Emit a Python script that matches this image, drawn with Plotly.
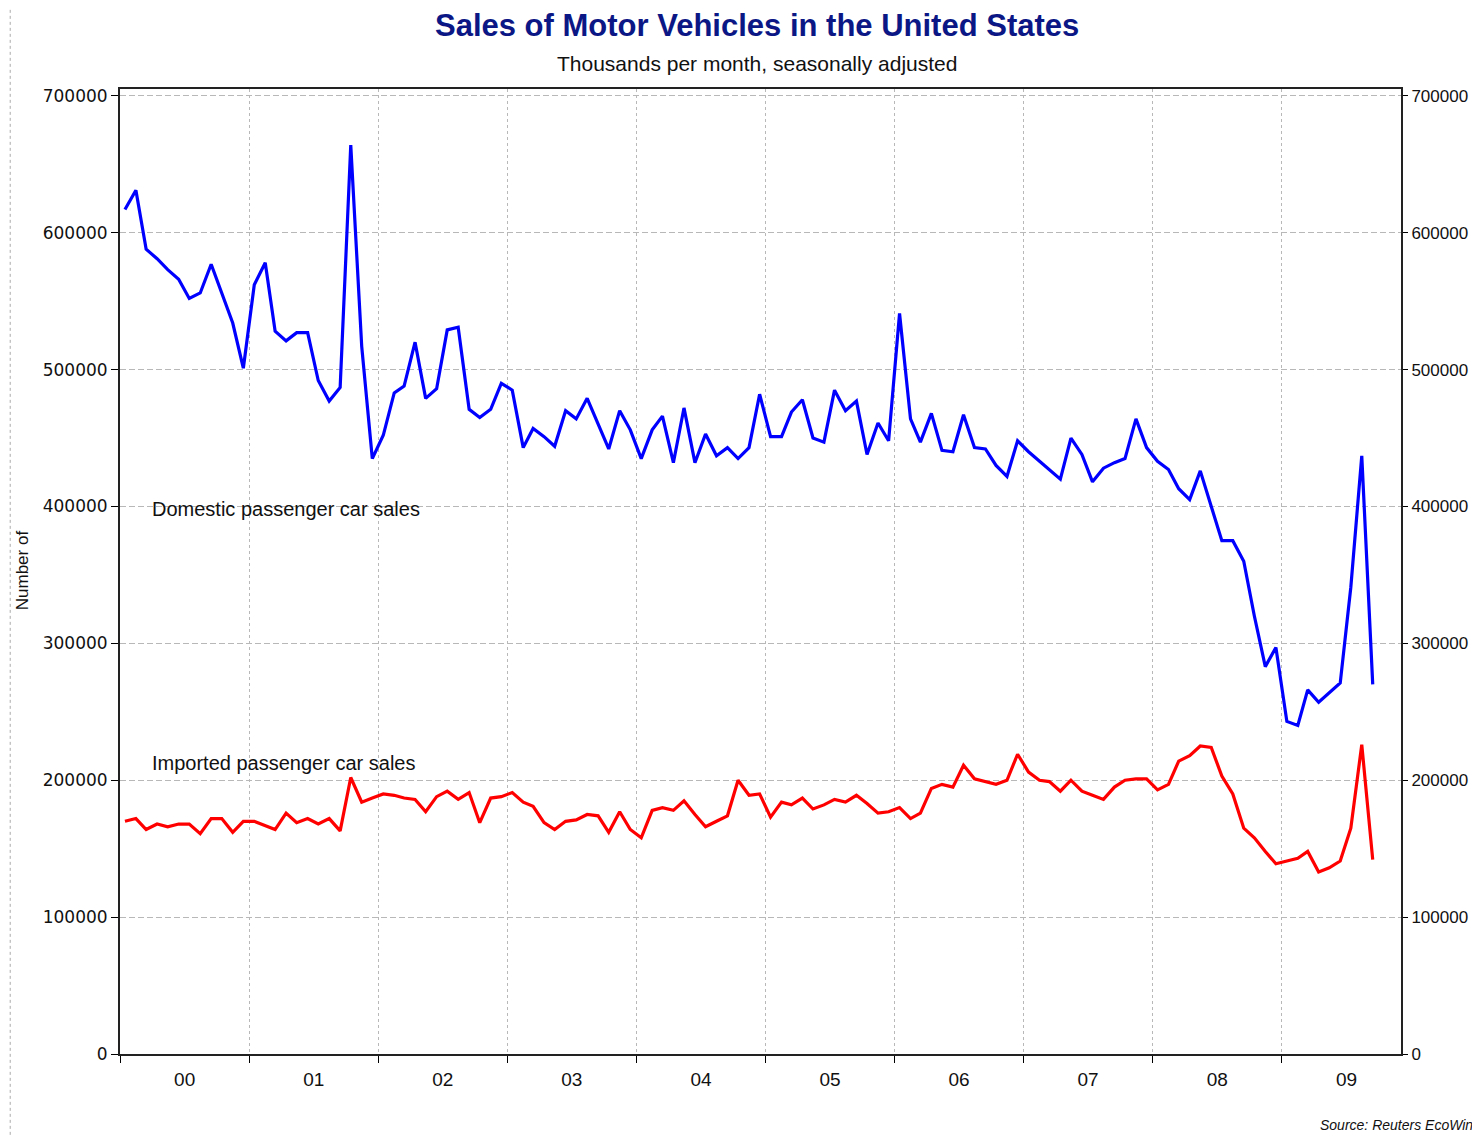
import pandas as pd
import plotly.graph_objects as go

months = pd.date_range("2000-01-01", periods=117, freq="MS") + pd.Timedelta(days=14)

domestic_k = [
    617, 631, 588, 581, 573, 566, 552, 556, 577, 556, 534, 501,
    562, 578, 528, 521, 527, 527, 492, 477, 487, 664, 517, 435,
    452, 483, 488, 520, 479, 486, 529, 531, 471, 465, 471, 490,
    485, 443, 457, 451, 444, 470, 464, 479, 460, 442, 470, 456,
    435, 456, 466, 432, 472, 432, 453, 437, 443, 435, 443, 482,
    451, 451, 469, 478, 450, 447, 485, 470, 477, 438, 461, 448,
    541, 464, 447, 468, 441, 440, 467, 443, 442, 430, 422, 448,
    440, 433, 427, 420, 450, 438, 418, 428, 432, 435, 464, 443,
    433, 427, 413, 405, 426, 400, 375, 375, 360, 320, 283, 297,
    243, 240, 266, 257, 264, 271, 341, 437, 270,
]

imported_k = [
    170, 172, 164, 168, 166, 168, 168, 161, 172, 172, 162, 170,
    170, 167, 164, 176, 169, 172, 168, 172, 163, 202, 184, 187,
    190, 189, 187, 186, 177, 188, 192, 186, 191, 169, 187, 188,
    191, 184, 181, 169, 164, 170, 171, 175, 174, 162, 177, 164,
    158, 178, 180, 178, 185, 175, 166, 170, 174, 200, 189, 190,
    173, 184, 182, 187, 179, 182, 186, 184, 189, 183, 176, 177,
    180, 172, 176, 194, 197, 195, 211, 201, 199, 197, 200, 219,
    206, 200, 199, 192, 200, 192, 189, 186, 195, 200, 201, 201,
    193, 197, 214, 218, 225, 224, 203, 190, 165, 158, 148, 139,
    141, 143, 148, 133, 136, 141, 165, 226, 142,
]

domestic = [v * 1000 for v in domestic_k]
imported = [v * 1000 for v in imported_k]

title_text = "Sales of Motor Vehicles in the United States"
subtitle_text = "Thousands per month, seasonally adjusted"
y_title = "Number of"
source_text = "Source: Reuters EcoWin"
label_domestic = "Domestic passenger car sales"
label_imported = "Imported passenger car sales"

Y_RANGE = [0, 705000]
X_RANGE = ["2000-01-01", "2009-12-04"]

fig = go.Figure()
fig.add_trace(go.Scatter(x=months, y=domestic, mode="lines",
                         line=dict(color="#0000FF", width=3.2),
                         name=label_domestic, yaxis="y"))
fig.add_trace(go.Scatter(x=months, y=imported, mode="lines",
                         line=dict(color="#FF0000", width=3.2),
                         name=label_imported, yaxis="y2"))

grid_col = "#b8b8b8"
# The page body adds an 8px offset; size the figure so the plot area lands
# where it sits in the reference.
fig.update_layout(
    width=1472, height=1128, autosize=False,
    margin=dict(l=112, r=76, t=81, b=82),
    paper_bgcolor="white", plot_bgcolor="white",
    showlegend=False,
    xaxis=dict(
        type="date", range=X_RANGE,
        tick0="2000-01-01", dtick="M12", tickformat="%y",
        ticklabelmode="period",
        ticks="outside", ticklen=7, tickcolor="#000", tickwidth=1,
        showline=True, linecolor="#222", linewidth=2, mirror=True,
        showgrid=True, gridcolor=grid_col, gridwidth=1, griddash="3px,3px",
        tickfont=dict(family="Liberation Sans, Arial", size=19, color="#111"),
        zeroline=False,
    ),
    yaxis=dict(
        range=Y_RANGE, dtick=100000, tick0=0, tickformat="d",
        ticks="outside", ticklen=7, tickcolor="#000",
        showline=True, linecolor="#222", linewidth=2,
        showgrid=True, gridcolor=grid_col, gridwidth=1, griddash="6px,3px",
        tickfont=dict(family="DejaVu Sans, Verdana", size=17, color="#111"),
        zeroline=False,
    ),
    yaxis2=dict(
        range=Y_RANGE, dtick=100000, tick0=0, tickformat="d",
        overlaying="y", side="right",
        ticks="outside", ticklen=5, tickcolor="#000",
        showline=True, linecolor="#222", linewidth=2,
        showgrid=False, zeroline=False,
        tickfont=dict(family="Liberation Sans, Arial", size=17, color="#111"),
    ),
)

ann = []
ann.append(dict(text="<b>" + title_text + "</b>", xref="paper", yref="paper",
                x=0.497, y=1.0663, xanchor="center", yanchor="middle", showarrow=False,
                font=dict(family="Liberation Sans, Arial", size=31, color="#0c1786")))
ann.append(dict(text=subtitle_text, xref="paper", yref="paper",
                x=0.497, y=1.0269, xanchor="center", yanchor="middle", showarrow=False,
                font=dict(family="Liberation Sans, Arial", size=21, color="#111")))
ann.append(dict(text=y_title, xref="paper", yref="paper",
                x=-0.0755, y=0.5016, xanchor="center", yanchor="middle", showarrow=False,
                textangle=-90,
                font=dict(family="Liberation Sans, Arial", size=17, color="#111")))
ann.append(dict(text=label_domestic, xref="paper", yref="paper",
                x=0.0234, y=0.5648, xanchor="left", yanchor="middle", showarrow=False,
                font=dict(family="Liberation Sans, Arial", size=20, color="#111")))
ann.append(dict(text=label_imported, xref="paper", yref="paper",
                x=0.0234, y=0.3016, xanchor="left", yanchor="middle", showarrow=False,
                font=dict(family="Liberation Sans, Arial", size=20, color="#111")))
ann.append(dict(text="<i>" + source_text + "</i>", xref="paper", yref="paper",
                x=1.058, y=-0.0736, xanchor="right", yanchor="middle", showarrow=False,
                font=dict(family="Liberation Sans Narrow, Liberation Sans, Arial", size=14, color="#111")))
fig.update_layout(annotations=ann)

# window frame (dotted) on left and top edge
fig.add_shape(type="line", xref="paper", yref="paper",
              x0=-0.0857, x1=-0.0857, y0=-0.09, y1=1.095,
              line=dict(color="#aaaaaa", width=1, dash="dot"))
fig.add_shape(type="line", xref="paper", yref="paper",
              x0=-0.0857, x1=1.06, y0=1.089, y1=1.089,
              line=dict(color="#aaaaaa", width=1, dash="dot"))

fig.write_html("out.html")
